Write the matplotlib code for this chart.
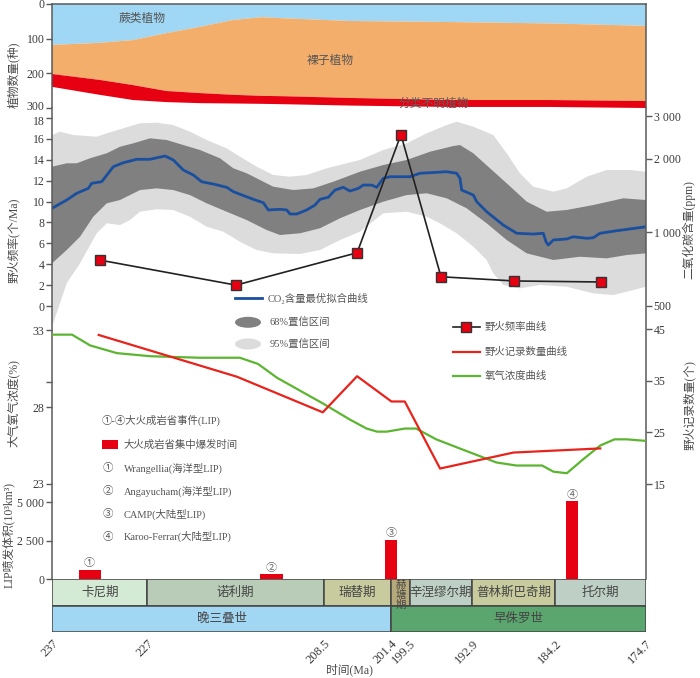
import matplotlib
matplotlib.use('Agg')
import matplotlib.pyplot as plt
import matplotlib.transforms as mtransforms
import numpy as np
from matplotlib.patches import Rectangle, Ellipse
from matplotlib.lines import Line2D

plt.rcParams['font.family'] = ['Liberation Serif', 'Noto Sans CJK SC', 'DejaVu Sans']

# ---------------- data ----------------
# plant diversity (species), stacked: fern, gymnosperm, unclassified
plant_t = [237, 232, 228.5, 225, 221.5, 218, 215, 212.8, 205.7, 195.3, 184.8, 174.7]
fern = [118, 112, 104, 84, 66, 46, 38, 41, 49, 52, 56, 63]
gymno = [84, 107, 130, 167, 191, 216, 227, 225, 222, 225, 221, 217]
unknown = [37, 43, 43, 32, 29, 25, 23, 23, 22, 20, 20, 20]

# CO2 best fit (ppm)
co2_t = [237.0, 235.46, 234.41, 233.19, 232.84, 231.79, 230.57, 229.52, 228.12, 226.72,
         225.15, 224.28, 223.23, 222.18, 221.30, 220.08, 218.68, 217.98, 215.89, 214.84,
         214.31, 213.09, 212.38, 212.04, 211.33, 210.29, 209.42, 208.89, 208.02, 207.32,
         206.45, 205.75, 204.87, 204.35, 203.47, 202.94, 202.25, 201.55, 199.45, 198.40,
         195.60, 194.55, 194.21, 194.03, 192.81, 192.46, 191.41, 189.67, 188.26, 186.52,
         185.47, 185.19, 184.95, 184.42, 183.02, 182.33, 180.92, 180.23, 179.53, 177.77, 174.7]
co2_best = [1254, 1356, 1445, 1514, 1588, 1612, 1858, 1929, 1993, 1993,
            2056, 1980, 1801, 1718, 1612, 1577, 1529, 1467, 1365, 1322,
            1234, 1242, 1234, 1188, 1188, 1234, 1293, 1365, 1391, 1490,
            1529, 1476, 1514, 1562, 1562, 1529, 1665, 1690, 1690, 1746,
            1772, 1746, 1665, 1490, 1421, 1335, 1214, 1070, 990, 983,
            990, 914, 886, 929, 938, 958, 944, 949, 990, 1014, 1053]

# 68% confidence interval
ci68_up_t = [237.0, 235.46, 234.41, 233.01, 231.26, 229.87, 228.47, 226.72, 224.97, 223.23,
             221.48, 219.38, 217.98, 216.58, 213.79, 211.69, 209.59, 207.50, 204.70, 202.25,
             199.80, 197.35, 194.91, 194.21, 192.81, 191.06, 189.31, 187.21, 185.12, 183.02,
             180.23, 177.08, 174.7]
ci68_up = [1858, 1919, 1919, 2012, 2109, 2244, 2318, 2430, 2391, 2281,
           2176, 2012, 1830, 1746, 1538, 1490, 1514, 1612, 1772, 1888,
           1980, 2141, 2259, 2281, 2109, 1830, 1588, 1335, 1214, 1234,
           1293, 1378, 1356]
ci68_lo_t = [237.0, 235.46, 234.06, 232.67, 231.26, 229.87, 228.82, 227.77, 226.02, 224.28,
             222.53, 220.77, 218.68, 216.58, 214.48, 213.09, 210.99, 208.89, 206.79, 204.70,
             202.25, 199.80, 197.70, 195.60, 193.51, 191.41, 189.31, 187.21, 184.42, 181.62,
             178.82, 176.72, 174.7]
ci68_lo = [745, 845, 958, 1158, 1314, 1356, 1421, 1490, 1514, 1490,
           1421, 1314, 1214, 1122, 1021, 974, 990, 1038, 1141, 1234,
           1335, 1421, 1445, 1378, 1254, 1088, 929, 819, 769, 793,
           781, 806, 819]

# 95% confidence interval
ci95_up_t = [237.0, 236.16, 234.77, 232.31, 231.26, 229.52, 227.77, 226.02, 224.28, 222.53,
             220.77, 218.68, 217.28, 215.53, 213.79, 212.04, 210.29, 208.19, 206.10, 204.70,
             202.25, 199.80, 197.70, 195.60, 194.55, 192.81, 190.72, 189.31, 187.92, 186.52,
             184.42, 183.02, 180.92, 178.82, 176.38, 174.7]
ci95_up = [2507, 2587, 2507, 2467, 2548, 2671, 2801, 2817, 2756, 2587,
           2391, 2211, 2042, 1858, 1718, 1690, 1718, 1830, 1919, 1980,
           2176, 2318, 2548, 2756, 2843, 2712, 2507, 2109, 1746, 1538,
           1467, 1514, 1690, 1801, 1801, 1772]
ci95_lo_t = [237.0, 236.16, 235.46, 234.06, 232.31, 231.26, 229.87, 228.82, 227.77, 226.02,
             224.28, 222.53, 220.77, 219.03, 217.28, 215.53, 213.79, 210.99, 208.89, 206.79,
             204.70, 202.25, 199.80, 197.70, 196.31, 194.55, 192.81, 191.41, 190.72, 189.67,
             187.92, 185.82, 183.02, 180.23, 178.13, 176.03, 174.7]
ci95_lo = [409, 511, 617, 745, 990, 1088, 1070, 1122, 1214, 1242,
           1234, 1158, 1053, 1005, 914, 845, 819, 814, 845, 929,
           1005, 1196, 1214, 1158, 1088, 990, 872, 769, 678, 607,
           588, 607, 597, 561, 552, 579, 597]

# wildfire frequency (per Ma)
fire_t = [232.0, 217.7, 205.0, 200.4, 196.2, 188.5, 179.4]
fire_freq = [4.4, 2.0, 5.1, 16.4, 2.8, 2.4, 2.3]

# atmospheric O2 (%)
o2_t = [237.0, 234.9, 233.0, 230.2, 226.7, 221.5, 217.3, 215.4, 213.4, 208.5, 205.8, 204.0,
        202.9, 201.9, 200.0, 198.8, 196.7, 194.2, 190.4, 188.3, 185.6, 184.4, 183.0, 181.3,
        179.5, 178.0, 176.7, 174.7]
o2_v = [32.7, 32.7, 32.0, 31.5, 31.3, 31.2, 31.2, 30.8, 29.9, 28.2, 27.2, 26.6,
        26.4, 26.4, 26.6, 26.6, 25.9, 25.3, 24.4, 24.2, 24.2, 23.8, 23.7, 24.6,
        25.5, 25.9, 25.9, 25.8]

# wildfire record count
rec_t = [232.1, 217.6, 208.6, 205.0, 201.4, 200.0, 196.3, 188.6, 179.5]
rec_n = [43.9, 35.8, 28.9, 35.9, 31.0, 31.0, 18.0, 21.1, 21.9]

# LIP eruption volume (10^3 km^3)
lip_start = [234.2, 215.2, 202.1, 183.1]
lip_end = [231.9, 212.8, 200.8, 181.8]
lip_vol = [600, 325, 2550, 5050]
lip_ids = ['①', '②', '③', '④']
lip_names = ['Wrangellia(海洋型LIP)', 'Angayucham(海洋型LIP)', 'CAMP(大陆型LIP)', 'Karoo-Ferrar(大陆型LIP)']

# time scale
stage_names = ['卡尼期', '诺利期', '瑞替期', '赫塘期', '辛涅缪尔期', '普林斯巴奇期', '托尔期']
stage_bounds = [237, 227, 208.5, 201.4, 199.5, 192.9, 184.2, 174.7]
stage_colors = ['#d5ead4', '#b9ccb8', '#c8cb9d', '#b6aa7a', '#bed0c5', '#c8cb9d', '#bed0c5']
epoch_names = ['晚三叠世', '早侏罗世']
epoch_bounds = [237, 201.4, 174.7]
epoch_colors = ['#a1d7f2', '#5ba56f']

# ---------------- layout ----------------
W, H = 700, 678
fig = plt.figure(figsize=(7, 6.78), dpi=100)
X0, X1 = 52, 646
TMAX, TMIN = 237, 174.7
SP = '#5a5a5a'
TXT = '#3a3a3a'
LAB = '#4a4a4a'
CJK = ['Noto Sans CJK SC', 'DejaVu Sans']


def rect(yt, yb):
    return [X0 / W, 1 - yb / H, (X1 - X0) / W, (yb - yt) / H]


def style_y(ax, side='left'):
    ax.tick_params(axis='y', which='both', direction='out', length=4, width=1, colors=SP,
                   labelcolor=TXT, labelsize=8.5, pad=1.5,
                   left=(side == 'left'), labelleft=(side == 'left'),
                   right=(side == 'right'), labelright=(side == 'right'))
    ax.set_xticks([])
    ax.set_xlim(TMAX, TMIN)


def spines(ax, show=()):
    for k, s in ax.spines.items():
        s.set_visible(k in show)
        s.set_color(SP)
        s.set_linewidth(1.1)


def nudge(label, dy_px):
    label.set_transform(label.get_transform() +
                        mtransforms.ScaledTranslation(0, -dy_px / 100.0, fig.dpi_scale_trans))


# plant panel
ax_p = fig.add_axes(rect(4, 108))
ax_p.stackplot(plant_t, fern, gymno, unknown, colors=['#9fd7f4', '#f4ae6b', '#e60012'], lw=0)
ax_p.set_ylim(300, 0)
ax_p.set_yticks([0, 100, 200, 300])
style_y(ax_p)
spines(ax_p, ('left', 'top', 'right'))
ax_p.text(227.5, 43, '蕨类植物', family=CJK, fontsize=8.5, color='#555', ha='center', va='center')
ax_p.text(207.8, 162, '裸子植物', family=CJK, fontsize=8.5, color='#555', ha='center', va='center')
ax_p.text(197.0, 287, '分类不明植物', family=CJK, fontsize=8.5, color='#6a5a5a', ha='center',
          va='center', clip_on=False)
nudge(ax_p.get_yticklabels()[-1], -3)

mid = rect(108, 579)

# CO2 (log, right)
ax_c = fig.add_axes(mid)
ax_c.set_yscale('log')
ax_c.fill(np.r_[ci95_up_t, ci95_lo_t[::-1]], np.r_[ci95_up, ci95_lo[::-1]], color='#dcdcdc', lw=0)
ax_c.fill(np.r_[ci68_up_t, ci68_lo_t[::-1]], np.r_[ci68_up, ci68_lo[::-1]], color='#808080', lw=0)
ax_c.plot(co2_t, co2_best, color='#1a4f9f', lw=2)
ax_c.set_ylim(37.65, 3237)
ax_c.yaxis.set_minor_locator(matplotlib.ticker.NullLocator())
ax_c.set_yticks([500, 1000, 2000, 3000])
ax_c.set_yticklabels(['500', '1 000', '2 000', '3 000'])
style_y(ax_c, 'right')
spines(ax_c, ('right',))

# fire frequency (left)
ax_f = fig.add_axes(mid, facecolor='none')
ax_f.plot(fire_t, fire_freq, color='#222', lw=1.2, marker='s', ms=6.5,
          mfc='#e60012', mec='#333', mew=1)
ax_f.set_ylim(-26.12, 18.95)
ax_f.set_yticks(range(0, 19, 2))
style_y(ax_f)
spines(ax_f, ('left',))
nudge(ax_f.get_yticklabels()[-1], 3)

# O2 (left)
ax_o = fig.add_axes(mid, facecolor='none')
ax_o.plot(o2_t, o2_v, color='#5cb531', lw=1.6)
ax_o.set_ylim(16.83, 47.42)
ax_o.set_yticks([23, 28, 33])
ax_o.set_yticks([29.6], minor=True)
style_y(ax_o)
spines(ax_o)

# wildfire record count (right)
ax_r = fig.add_axes(mid, facecolor='none')
ax_r.plot(rec_t, rec_n, color='#e8231c', lw=1.6)
ax_r.set_ylim(-3.42, 87.91)
ax_r.set_yticks([15, 25, 35, 45])
style_y(ax_r, 'right')
spines(ax_r)

# LIP volume (left)
ax_l = fig.add_axes(mid, facecolor='none')
ls = np.array(lip_start)
le = np.array(lip_end)
ax_l.bar((ls + le) / 2, lip_vol, width=ls - le, color='#e60012', lw=0)
for c, v, lab in zip((ls + le) / 2, lip_vol, lip_ids):
    ax_l.annotate(lab, (c, v), xytext=(0, 1), textcoords='offset points', ha='center', va='bottom',
                  family=CJK, fontsize=8, color='#666')
ax_l.set_ylim(0, 30587)
ax_l.set_yticks([0, 2500, 5000])
ax_l.set_yticklabels(['0', '2 500', '5 000'])
style_y(ax_l)
spines(ax_l)

# time scale
ax_t = fig.add_axes(rect(579, 632))
ax_t.set_xlim(TMAX, TMIN)
ax_t.set_ylim(2, 0)
for i, name in enumerate(stage_names):
    a, b = stage_bounds[i], stage_bounds[i + 1]
    ax_t.add_patch(Rectangle((a, 0), b - a, 1, facecolor=stage_colors[i], edgecolor='#444', lw=1.1))
    if a - b < 3:
        ax_t.text((a + b) / 2, 0.05, '\n'.join(name), family=CJK, fontsize=7.5, color='#444',
                  ha='center', va='top', linespacing=0.95, zorder=5)
    else:
        ax_t.text((a + b) / 2, 0.5, name, family=CJK, fontsize=9, color='#444',
                  ha='center', va='center')
for i, name in enumerate(epoch_names):
    a, b = epoch_bounds[i], epoch_bounds[i + 1]
    ax_t.add_patch(Rectangle((a, 1), b - a, 1, facecolor=epoch_colors[i], edgecolor='#444', lw=1.1,
                             zorder=1))
    ax_t.text((a + b) / 2, 1.5, name, family=CJK, fontsize=9, color='#444', ha='center', va='center',
              zorder=2)
for s in ax_t.spines.values():
    s.set_visible(False)
ax_t.set_yticks([])
ax_t.set_xticks(stage_bounds)
ax_t.set_xticklabels(['%g' % v for v in stage_bounds], rotation=45, ha='right',
                     rotation_mode='anchor', fontsize=9, color=TXT)
ax_t.tick_params(axis='x', length=0, pad=4)

# ---------------- legends / labels (overlay) ----------------
ov = fig.add_axes([0, 0, 1, 1], facecolor='none')
ov.set_xlim(0, W)
ov.set_ylim(H, 0)
ov.axis('off')

lf = dict(family=['Liberation Serif', 'Noto Sans CJK SC'], fontsize=7.5, color='#555', va='center')
ov.add_line(Line2D([235, 262], [298.3, 298.3], color='#1a4f9f', lw=2))
ov.text(268, 298.3, 'CO₂含量最优拟合曲线', **lf)
ov.add_patch(Ellipse((248, 322.3), 26, 11, color='#808080', lw=0))
ov.text(270, 322.3, '68%置信区间', **lf)
ov.add_patch(Ellipse((248, 344), 26, 11, color='#dcdcdc', lw=0))
ov.text(270, 344, '95%置信区间', **lf)

ov.add_line(Line2D([452.7, 480], [327.3, 327.3], color='#222', lw=1.2))
ov.add_line(Line2D([466.3], [327.3], marker='s', ms=6.5, mfc='#e60012', mec='#333', mew=1))
ov.text(484.3, 327.3, '野火频率曲线', **lf)
ov.add_line(Line2D([452.7, 480], [351.7, 351.7], color='#e8231c', lw=1.6))
ov.text(484.3, 351.7, '野火记录数量曲线', **lf)
ov.add_line(Line2D([452.7, 480], [375.7, 375.7], color='#5cb531', lw=1.6))
ov.text(484.3, 375.7, '氧气浓度曲线', **lf)

ov.text(101.7, 420.7, '①-④大火成岩省事件(LIP)', **lf)
ov.add_patch(Rectangle((102, 440), 16.3, 9, color='#e60012', lw=0))
ov.text(123.3, 445, '大火成岩省集中爆发时间', **lf)
for k, (lid, nm) in enumerate(zip(lip_ids, lip_names)):
    yy = 468.3 + k * 22.8
    ov.text(108.3, yy, lid, ha='center', **lf)
    ov.text(123.5, yy, nm, **lf)

yl = dict(family=['Liberation Serif', 'Noto Sans CJK SC'], fontsize=8.5, color=LAB,
          rotation=90, ha='center', va='center')
ov.text(13.5, 75, '植物数量(种)', **yl)
ov.text(13.5, 240, '野火频率(个/Ma)', **yl)
ov.text(13.5, 403, '大气氧气浓度(%)', **yl)
ov.text(9, 535, 'LIP喷发体积(10³km³)', **yl)
ov.text(689, 230, '二氧化碳含量(ppm)', **yl)
ov.text(689, 405, '野火记录数量(个)', **yl)
ov.text(349, 670, '时间(Ma)', family=['Liberation Serif', 'Noto Sans CJK SC'], fontsize=8.5,
        color=LAB, ha='center', va='center')

fig.savefig('out.png', dpi=100)
